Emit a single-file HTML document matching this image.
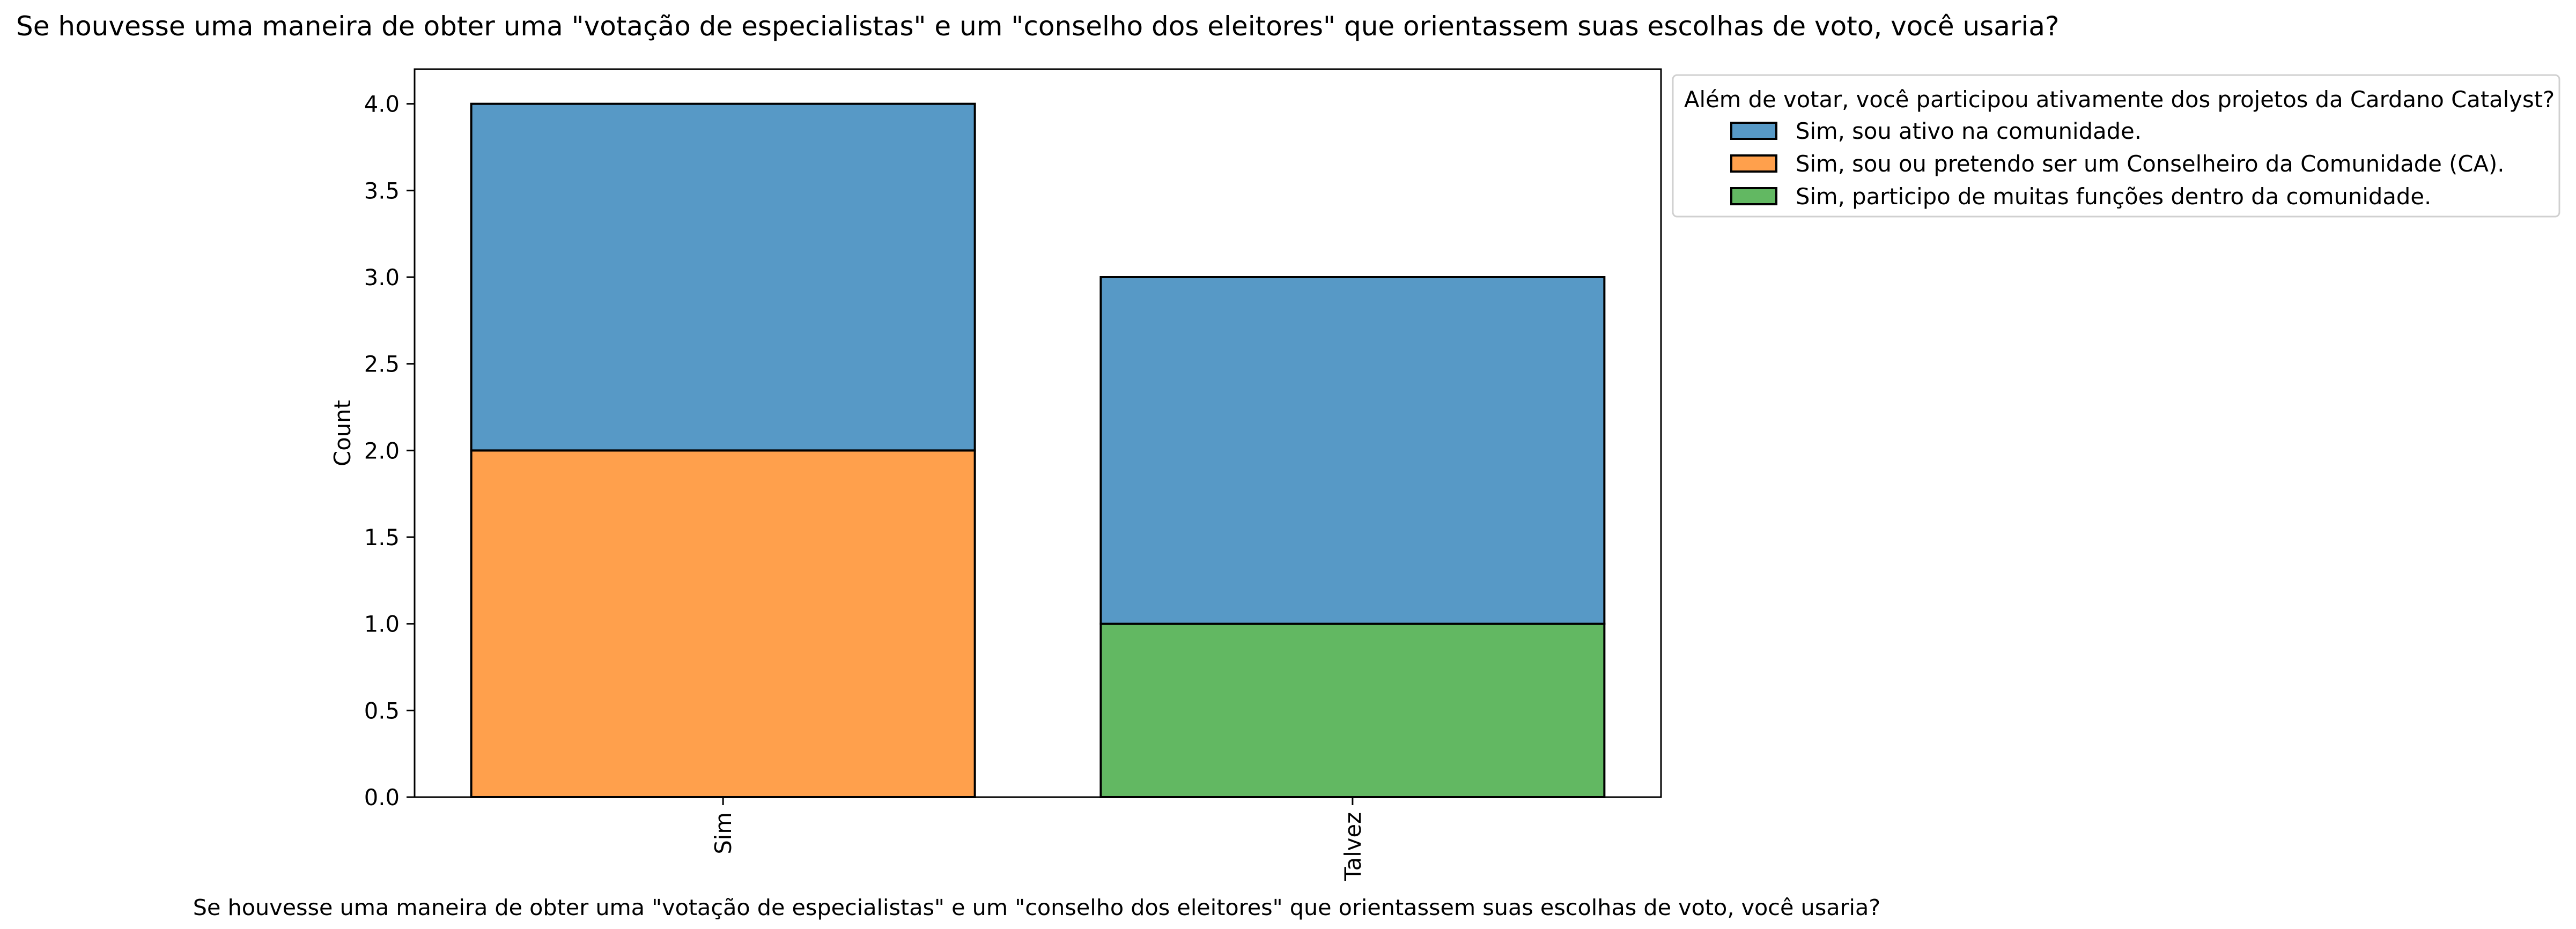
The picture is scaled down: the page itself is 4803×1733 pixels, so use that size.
<!DOCTYPE html>
<html><head><meta charset="utf-8"><style>
html,body{margin:0;padding:0;background:#fff;}
svg{display:block;font-family:"DejaVu Sans","Liberation Sans",sans-serif;}
</style></head><body>
<svg id="chart" width="4803" height="1733" viewBox="0 0 4803 1733" xmlns="http://www.w3.org/2000/svg">
<rect width="4803" height="1733" fill="#fff"/>
<text x="30" y="66" font-size="50" fill="#000">Se houvesse uma maneira de obter uma "votação de especialistas" e um "conselho dos eleitores" que orientassem suas escolhas de voto, você usaria?</text>
<g id="plot"></g>
<g id="legend">
<rect x="3119" y="140" width="1653" height="264" rx="8" fill="#fff" stroke="#d0d0d0" stroke-width="3"/>
<text x="3140" y="200" font-size="41.7">Além de votar, você participou ativamente dos projetos da Cardano Catalyst?</text>
</g>
</svg>
<script>
const categories = ["Sim", "Talvez"];
const seriesNames = ["Sim, sou ativo na comunidade.", "Sim, sou ou pretendo ser um Conselheiro da Comunidade (CA).", "Sim, participo de muitas funções dentro da comunidade."];
const seriesColors = ["#5799c6", "#ffa04c", "#62b862"];
const activeVals = [2, 2];
const caVals = [2, 0];
const rolesVals = [0, 1];
const yTicks = [0.0, 0.5, 1.0, 1.5, 2.0, 2.5, 3.0, 3.5, 4.0];

const NS = "http://www.w3.org/2000/svg";
const L = 773, R = 3097, T = 129, B = 1487;
const yMax = 4.2, xMin = -0.49, xMax = 1.49;
const yS = v => B - v / yMax * (B - T);
const xS = v => L + (v - xMin) / (xMax - xMin) * (R - L);
const plot = document.getElementById('plot');
function mk(tag, attrs, parent) {
  const e = document.createElementNS(NS, tag);
  for (const k in attrs) e.setAttribute(k, attrs[k]);
  (parent || plot).appendChild(e);
  return e;
}
const stackOrder = [[rolesVals, 2], [caVals, 1], [activeVals, 0]];
const bw = 0.8;
categories.forEach((c, i) => {
  let base = 0;
  stackOrder.forEach(([vals, si]) => {
    const v = vals[i];
    if (v > 0) {
      const r = mk('rect', {x: xS(i - bw / 2), y: yS(base + v), width: xS(i + bw / 2) - xS(i - bw / 2), height: yS(base) - yS(base + v), fill: seriesColors[si], stroke: '#000', 'stroke-width': 4});
      
      
    }
    base += v;
  });
});
const fr = mk('rect', {x: L, y: T, width: R - L, height: B - T, fill: 'none', stroke: '#000', 'stroke-width': 3});


yTicks.forEach(t => {
  const y = yS(t);
  const tk = mk('line', {x1: L - 15, x2: L, y1: y, y2: y, stroke: '#000', 'stroke-width': 3});
  
  
  const tx = mk('text', {x: L - 28, y: y + 15, 'font-size': 41.7, 'text-anchor': 'end'});
  tx.textContent = t.toFixed(1);
  
  
});
const yl = mk('text', {x: 0, y: 0, 'font-size': 41.7, 'text-anchor': 'middle', transform: 'translate(653,' + ((T + B) / 2) + ') rotate(-90)'});
yl.textContent = 'Count';


categories.forEach((c, i) => {
  const x = xS(i);
  const tk = mk('line', {x1: x, x2: x, y1: B, y2: B + 15, stroke: '#000', 'stroke-width': 3});
  
  
  const tx = mk('text', {x: 0, y: 0, 'font-size': 41.7, 'text-anchor': 'end', transform: 'translate(' + (x + 15) + ',' + (B + 28) + ') rotate(-90)'});
  tx.textContent = c;
  
  
});
const xl = mk('text', {x: 1933, y: 1707, 'font-size': 41.3, 'text-anchor': 'middle'});
xl.textContent = 'Se houvesse uma maneira de obter uma "votação de especialistas" e um "conselho dos eleitores" que orientassem suas escolhas de voto, você usaria?';


const lg = document.getElementById('legend');
const entryY = [244, 305, 366];
seriesNames.forEach((n, i) => {
  const r = mk('rect', {x: 3228, y: entryY[i] - 15, width: 84, height: 30, fill: seriesColors[i], stroke: '#000', 'stroke-width': 4}, lg);
  
  
  const t = mk('text', {x: 3348, y: entryY[i] + 15, 'font-size': 41.7}, lg);
  t.textContent = n;
  
  
});
</script>
</body></html>
